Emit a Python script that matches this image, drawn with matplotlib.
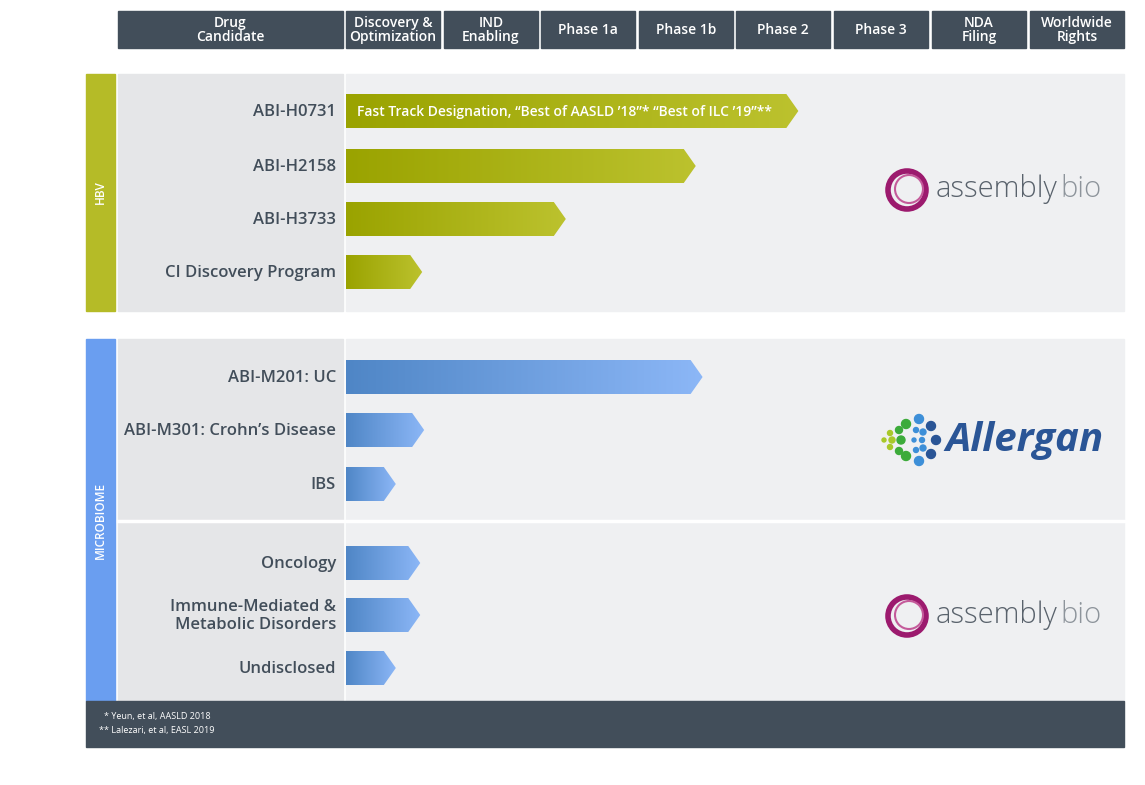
import matplotlib
matplotlib.use("Agg")
import matplotlib.pyplot as plt
import numpy as np
from matplotlib.patches import Rectangle, Polygon, Circle
from matplotlib.colors import LinearSegmentedColormap

plt.rcParams['font.family'] = ['Open Sans', 'DejaVu Sans']

stages = ["Drug\nCandidate", "Discovery &\nOptimization", "IND\nEnabling", "Phase 1a", "Phase 1b",
          "Phase 2", "Phase 3", "NDA\nFiling", "Worldwide\nRights"]
hbv_names = ["ABI-H0731", "ABI-H2158", "ABI-H3733", "CI Discovery Program"]
hbv_progress = [4.63, 3.58, 2.25, 0.78]
hbv_note = "Fast Track Designation, \u201cBest of AASLD \u201918\u201d* \u201cBest of ILC \u201919\u201d**"
mic_names = ["ABI-M201: UC", "ABI-M301: Crohn\u2019s Disease", "IBS",
             "Oncology", "Immune-Mediated &\nMetabolic Disorders", "Undisclosed"]
mic_progress = [3.65, 0.80, 0.51, 0.76, 0.76, 0.51]
footnotes = ["* Yeun, et al, AASLD 2018", "** Lalezari, et al, EASL 2019"]

fig = plt.figure(figsize=(11.45, 7.85), dpi=100)
ax = fig.add_axes([0, 0, 1, 1])
ax.set_xlim(0, 1145); ax.set_ylim(785, 0); ax.axis('off')

dark = "#424e5a"
col_x = [118, 346, 444, 541, 639, 736, 834, 932, 1030]
col_r = [343, 440, 538, 635, 733, 830, 928, 1026, 1124]
for s, l, r in zip(stages, col_x, col_r):
    ax.add_patch(Rectangle((l, 11), r - l, 37, color=dark))
    ax.text((l + r) / 2, 30, s, ha='center', va='center', color='white', fontsize=10,
            fontweight='semibold', linespacing=1.0)

x0 = 346
cw = 97.7

def panel(y0, y1, strip_color, label):
    ax.add_patch(Rectangle((86, y0), 29, y1 - y0, color=strip_color))
    ax.add_patch(Rectangle((118, y0), 225, y1 - y0, color="#e5e6e8"))
    ax.add_patch(Rectangle((346, y0), 778, y1 - y0, color="#eff0f2"))
    ax.text(100.5, (y0 + y1) / 2, label, rotation=90, ha='center', va='center', color='white',
            fontsize=8.5, fontweight='semibold')

def bar(yc, prog, c0, c1):
    x1 = x0 + prog * cw
    h = 17
    poly = Polygon([(x0, yc - h), (x1 - 12, yc - h), (x1, yc), (x1 - 12, yc + h), (x0, yc + h)],
                   closed=True, facecolor='none', edgecolor='none')
    ax.add_patch(poly)
    cmap = LinearSegmentedColormap.from_list('g', [c0, c1])
    im = ax.imshow(np.linspace(0, 1, 256)[None, :], cmap=cmap, aspect='auto',
                   extent=(x0, x1, yc + h, yc - h), zorder=2)
    im.set_clip_path(poly)

panel(74, 311, "#b5bb27", "HBV")
hbv_y = [111, 166, 219, 272]
for n, p, y in zip(hbv_names, hbv_progress, hbv_y):
    ax.text(336, y + 1, n, ha='right', va='center', color=dark, fontsize=12, fontweight='semibold')
    bar(y, p, "#9aa300", "#bcc22e")
ax.text(357, hbv_y[0] + 1, hbv_note, ha='left', va='center', color='white', fontsize=10,
        fontweight='semibold', zorder=3)

panel(339, 701, "#6a9ef0", "MICROBIOME")
ax.plot([118, 1124], [520.5, 520.5], color='white', lw=2.5)
mic_y = [377, 430, 484, 563, 615, 668]
for n, p, y in zip(mic_names, mic_progress, mic_y):
    ax.text(336, y + 1, n, ha='right', va='center', color=dark, fontsize=12, fontweight='semibold',
            linespacing=1.15)
    bar(y, p, "#4f86c6", "#8cb7f7")

ax.add_patch(Rectangle((86, 701), 1038, 46, color=dark))
ax.text(104, 717, footnotes[0], color='white', fontsize=6.5, va='center')
ax.text(99, 730, footnotes[1], color='white', fontsize=6.5, va='center')

def assembly(cx, cy):
    ax.add_patch(Circle((cx, cy), 19, facecolor='none', edgecolor='#9c1a6e', lw=4, zorder=3))
    ax.add_patch(Circle((cx + 2, cy - 1), 14, facecolor='none', edgecolor='#c45a9a', lw=1.5, zorder=3))
    ax.text(cx + 29, cy - 1, "assembly", ha='left', va='center', color='#59626c', fontsize=21,
            fontweight='light', zorder=3)
    ax.text(cx + 153, cy - 1, "bio", ha='left', va='center', color='#8d949b', fontsize=21,
            fontweight='light', zorder=3)

assembly(907, 190)
assembly(907, 616)

dots = [(884, 440, 2, '#a8c82a'), (890, 433, 2.5, '#a8c82a'), (890, 447, 2.5, '#a8c82a'),
        (892, 440, 3, '#a8c82a'), (899, 430, 3.5, '#3cab3a'), (899, 451, 3.5, '#3cab3a'),
        (901, 440, 4, '#3cab3a'), (906, 424, 4.5, '#3cab3a'), (906, 456, 4.5, '#3cab3a'),
        (919, 419, 4.5, '#3d8fd8'), (919, 461, 4.5, '#3d8fd8'), (916, 430, 2.5, '#3d8fd8'),
        (916, 450, 2.5, '#3d8fd8'), (914, 440, 2, '#3d8fd8'), (922, 440, 2.5, '#3d8fd8'),
        (923, 432, 3, '#3d8fd8'), (923, 448, 3, '#3d8fd8'),
        (931, 426, 4.5, '#2a5596'), (931, 454, 4.5, '#2a5596'), (936, 440, 4.5, '#2a5596')]
for x, y, r, c in dots:
    ax.add_patch(Circle((x, y), r, color=c, zorder=3))
ax.text(945, 441, "Allergan", ha='left', va='center', color='#2a5596', fontsize=29,
        fontweight='bold', style='italic', zorder=3)

fig.savefig("out.png", dpi=100)
